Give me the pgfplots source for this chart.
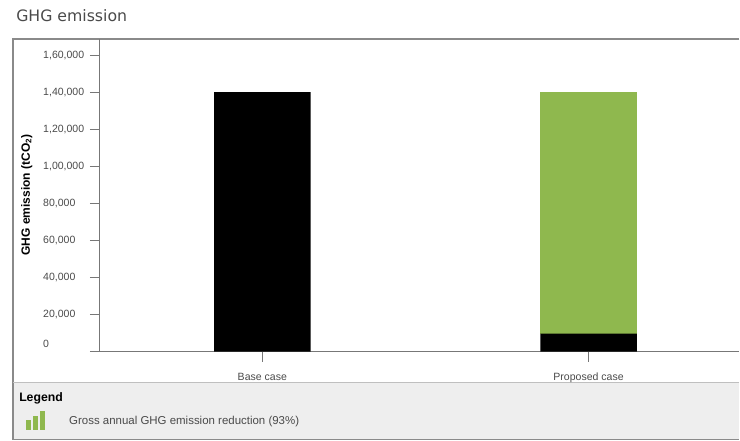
\documentclass[border=0pt]{standalone}
\usepackage{pgfplots}
\pgfplotsset{compat=1.18}
\usepackage{fontspec}
\setmainfont{Liberation Sans}
\newfontfamily\titlefont{DejaVu Sans}
\definecolor{barGreen}{HTML}{8FB84E}
\definecolor{panelGrey}{HTML}{EEEEEE}
\definecolor{frameGrey}{HTML}{8A8A8A}
\definecolor{axisGrey}{HTML}{777777}
\definecolor{textGrey}{HTML}{4A4A4A}
\pgfplotstableread{
pos low high
0 140000 0
1 9800 130200
}\ghgdata
\begin{document}
\begin{tikzpicture}
  \begin{scope}[x=0.75pt,y=-0.75pt]
  \path[use as bounding box] (0,0) rectangle (740,441);
  % report panel: title, frame and legend strip
  \node[anchor=west,font=\titlefont\fontsize{11.8}{14}\selectfont,text=textGrey,inner sep=0] at (16,16) {GHG emission};
  \fill[panelGrey] (13,383) rectangle (740,440);
  \draw[frameGrey,line width=1pt] (740,39) -- (13,39) -- (13,440) -- (740,440);
  \draw[black!25,line width=0.8pt] (13,383) -- (740,383);
  \end{scope}
  \begin{axis}[
    at={(75pt,-264pt)}, anchor=south west,
    scale only axis, width=480pt, height=234.75pt,
    ybar stacked, bar width=72.5pt,
    xmin=-0.4977, xmax=1.4625, ymin=0, ymax=168700,
    axis lines*=left, axis line style={axisGrey,line width=0.8pt,-},
    clip=false,
    scaled y ticks=false,
    xtick={0,1}, xticklabels={Base case,Proposed case},
    ytick={0,20000,40000,60000,80000,100000,120000,140000,160000},
    yticklabels={\smash{\raisebox{3.2pt}{0}},{20,000},{40,000},{60,000},{80,000},{1,00,000},{1,20,000},{1,40,000},{1,60,000}},
    tick style={axisGrey,line width=0.8pt},
    tick align=outside, major tick length=7.5pt,
    tick label style={font=\fontsize{7.9}{9}\selectfont,text=textGrey},
    yticklabel style={anchor=west,inner xsep=0pt,xshift=-35.25pt},
    xticklabel style={anchor=base,yshift=-14pt},
    ylabel={GHG emission (tCO\textsubscript{2})},
    every axis y label/.style={at={(axis description cs:-0.1145,0.501)},rotate=90,anchor=center,
      font=\bfseries\fontsize{9}{11}\selectfont,text=black},
  ]
    \addplot[fill=black,draw=none] table[x=pos,y=low] {\ghgdata};
    \addplot[fill=barGreen,draw=none] table[x=pos,y=high] {\ghgdata};
  \end{axis}
  \begin{scope}[x=0.75pt,y=-0.75pt]
  % legend strip
  \node[anchor=west,font=\fontsize{9.2}{11}\selectfont\bfseries,inner sep=0] at (19,399) {Legend};
  \fill[barGreen] (26,420) rectangle (31,430);
  \fill[barGreen] (33,416) rectangle (38,430);
  \fill[barGreen] (40,411) rectangle (45,430);
  \node[anchor=west,font=\fontsize{8.6}{10}\selectfont,text=textGrey,inner sep=0] at (69,422) {Gross annual GHG emission reduction (93\%)};
  \end{scope}
\end{tikzpicture}
\end{document}
